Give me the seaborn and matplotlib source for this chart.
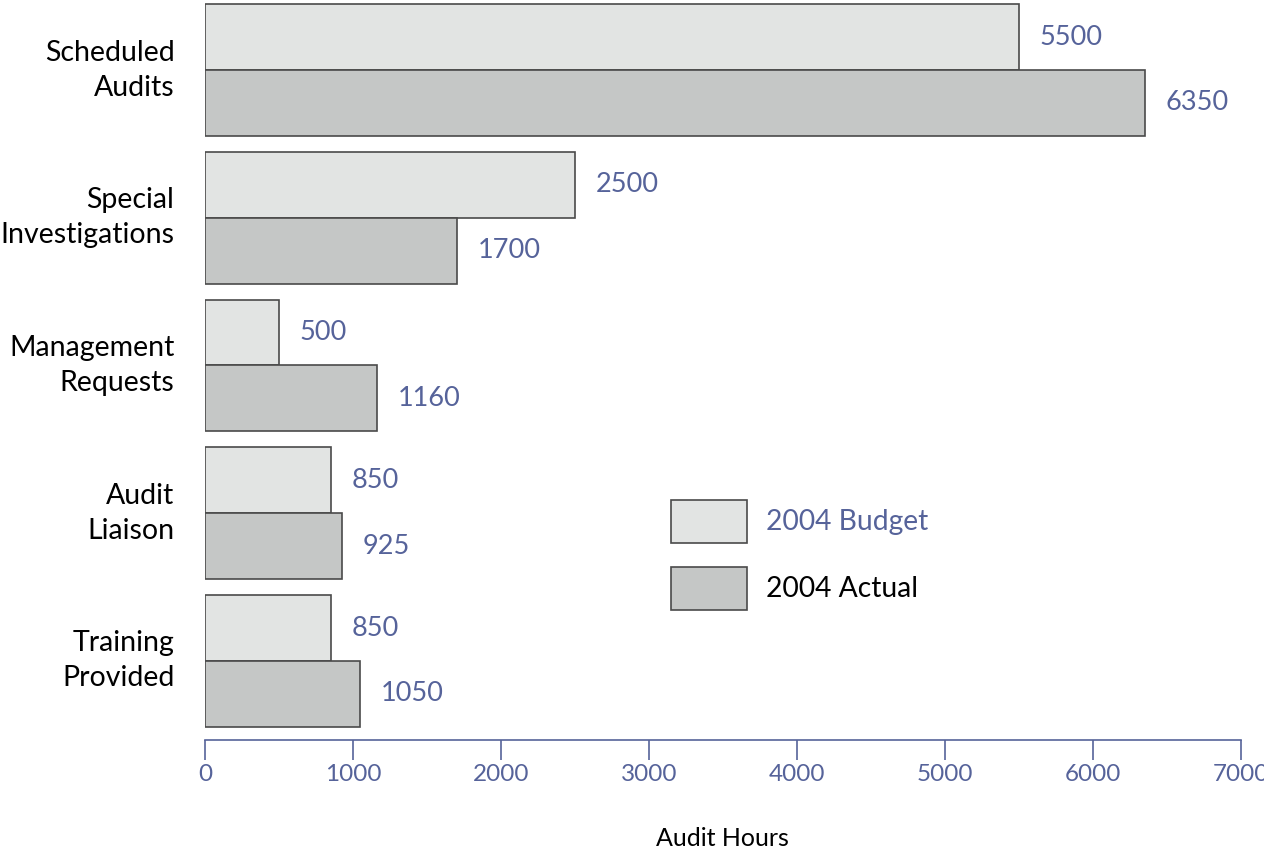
import matplotlib
matplotlib.use("Agg")
import matplotlib.pyplot as plt
import matplotlib.transforms as mtransforms
import seaborn as sns
import pandas as pd
from matplotlib.patches import Patch

categories = ["Scheduled\nAudits", "Special\nInvestigations", "Management\nRequests",
              "Audit\nLiaison", "Training\nProvided"]
budget = [5500, 2500, 500, 850, 850]
actual = [6350, 1700, 1160, 925, 1050]
series_names = ["2004 Budget", "2004 Actual"]
x_ticks = [0, 1000, 2000, 3000, 4000, 5000, 6000, 7000]

df = pd.DataFrame({
    "category": categories * 2,
    "hours": budget + actual,
    "series": [series_names[0]] * len(categories) + [series_names[1]] * len(categories),
})

sns.set_theme(style="white")
plt.rcParams["font.family"] = ["Lato", "DejaVu Sans"]

blue = "#56639a"
colors = ["#e2e4e3", "#c5c7c6"]
edge = "#4a4a4a"

fig = plt.figure(figsize=(12.64, 8.52), dpi=100)
ax = fig.add_axes([205 / 1264, 1 - 740 / 852, (1241 - 205) / 1264, 740 / 852])

sns.barplot(data=df, y="category", x="hours", hue="series", orient="h",
            palette=colors, width=0.89, edgecolor=edge, linewidth=1.2,
            ax=ax, legend=False)

for cont in ax.containers:
    ax.bar_label(cont, labels=[f"{int(v)}" for v in cont.datavalues],
                 padding=15, color=blue, fontsize=19.5)

ax.set_xlim(0, 7000)
ax.set_ylim(4.535, -0.474)
ax.set_xticks(x_ticks)
ax.set_xticklabels([str(t) for t in x_ticks], color=blue, fontsize=17.5)
ax.tick_params(axis="x", direction="out", length=14.5, width=1.2, color=blue, pad=3, bottom=True)
ax.tick_params(axis="y", length=0, pad=22)
shift = mtransforms.ScaledTranslation(0, 7 / 100, fig.dpi_scale_trans)
for lab in ax.get_yticklabels():
    lab.set_fontsize(20.5)
    lab.set_color("black")
    lab.set_linespacing(1.43)
    lab.set_transform(lab.get_transform() + shift)
for s in ["top", "right", "left"]:
    ax.spines[s].set_visible(False)
ax.spines["bottom"].set_color(blue)
ax.spines["bottom"].set_linewidth(1.2)
ax.set_ylabel("")
ax.set_xlabel("")
fig.text(722 / 1264, 1 - 838 / 852, "Audit Hours", ha="center", va="center",
         fontsize=18, color="black")

handles = [Patch(facecolor=colors[0], edgecolor=edge, linewidth=1.2),
           Patch(facecolor=colors[1], edgecolor=edge, linewidth=1.2)]
fs = 20.3
fs_px = fs * 100 / 72
hh = (43 / fs_px - 0.245) / 0.65
leg = fig.legend(handles, series_names, loc="upper left",
                 bbox_to_anchor=(671 / 1264, 1 - 500 / 852), frameon=False,
                 fontsize=fs, borderpad=0, borderaxespad=0,
                 handlelength=76 / fs_px, handleheight=hh,
                 handletextpad=19 / fs_px, labelspacing=(67 - 43) / fs_px)
leg.get_texts()[0].set_color(blue)
leg.get_texts()[1].set_color("black")

fig.savefig("out.png", dpi=100)
